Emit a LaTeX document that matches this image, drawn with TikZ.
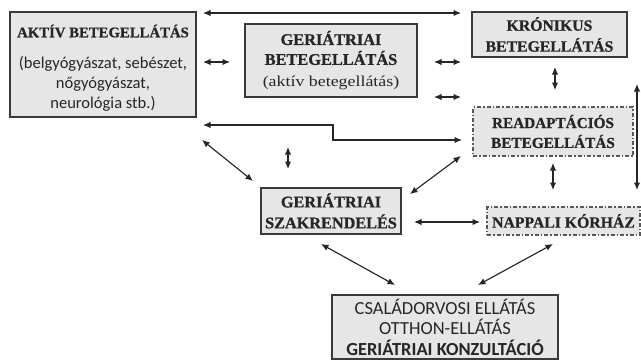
\documentclass[tikz,border=0pt]{standalone}
\usepackage{fontspec}
\usetikzlibrary{arrows.meta}
\newfontfamily\serifB[BoldFeatures={FakeBold=0.8}]{Liberation Serif}
\newfontfamily\serifR[FakeStretch=1.18]{Liberation Serif}
\newfontfamily\sansC{Carlito}
\definecolor{boxfill}{HTML}{E6E6E6}
\definecolor{ink}{HTML}{262626}
\definecolor{edge}{HTML}{3A3A3A}
\tikzset{
  box/.style={draw=edge, line width=1.2bp, fill=boxfill, inner sep=0pt, align=center, text=ink},
  dbox/.style={box, dash pattern=on 4bp off 2bp on 1.5bp off 2bp, line width=1.1bp, draw=edge!85},
  ttl/.style={font=\fontsize{#1}{21}\serifB\bfseries},
  ttl/.default=16,
  conn/.style={draw=ink, line width=1.15bp, {Latex[length=7.5bp,width=6.5bp]}-{Latex[length=7.5bp,width=6.5bp]}},
}
\begin{document}
\begin{tikzpicture}[x=1bp,y=-1bp]
\useasboundingbox (0,0) rectangle (641,360);
% boxes
\node[box, minimum width=186bp, minimum height=105bp] (aktiv) at (103,64.5) {};
\node[text=ink, anchor=base, inner sep=0pt, ttl=14.8] (aktivttl) at (103,37.3)
  {AKTÍV BETEGELLÁTÁS};
\node[text=ink, align=center, anchor=base, inner sep=0pt, font=\fontsize{16.6}{20}\sansC] (aktivtxt) at (103,108.5)
  {(belgyógyászat, sebészet,\\nőgyógyászat,\\neurológia stb.)};
\node[box, ttl=16.4, minimum width=172bp, minimum height=73bp] (geri) at (331,60.5)
  {GERIÁTRIAI\\[-1bp]BETEGELLÁTÁS\\[1bp]{\fontsize{15.2}{20}\serifR\mdseries (aktív betegellátás)}};
\node[box, ttl=15.8, minimum width=155bp, minimum height=45bp] (kron) at (549.5,34.5)
  {KRÓNIKUS\\BETEGELLÁTÁS};
\node[dbox, ttl=15.3, minimum width=160bp, minimum height=49bp] (readapt) at (553,131.5)
  {READAPTÁCIÓS\\[-1bp]BETEGELLÁTÁS};
\node[box, ttl=16.3, minimum width=140bp, minimum height=46bp] (szakr) at (331,211)
  {GERIÁTRIAI\\SZAKRENDELÉS};
\node[dbox, ttl=15.8, minimum width=153bp, minimum height=28bp] (nappali) at (563.5,221)
  {NAPPALI KÓRHÁZ};
\node[box, minimum width=226bp, minimum height=64bp, font=\fontsize{18.5}{20.5}\sansC] (csalad) at (445,327)
  {CSALÁDORVOSI ELLÁTÁS\\OTTHON-ELLÁTÁS\\\textbf{GERIÁTRIAI KONZULTÁCIÓ}};
% connector ends
\coordinate (t1) at (203,13);   \coordinate (t2) at (461,13);
\coordinate (a1) at (203,62);   \coordinate (a2) at (230,62);
\coordinate (b1) at (434,62);   \coordinate (b2) at (461,62);
\coordinate (c1) at (434,97);   \coordinate (c2) at (461,97);
\coordinate (e1) at (203,125);  \coordinate (e2) at (333,125);
\coordinate (e3) at (333,140);  \coordinate (e4) at (462,140);
\coordinate (k1) at (555,67);   \coordinate (k2) at (555,90);
\coordinate (r1) at (637,84);   \coordinate (r2) at (637,190);
\coordinate (n1) at (553,163);  \coordinate (n2) at (553,190);
\coordinate (d1) at (202,140);  \coordinate (d2) at (253,181);
\coordinate (v1) at (288,147);  \coordinate (v2) at (288,169);
\coordinate (s1) at (410,194);  \coordinate (s2) at (461,156);
\coordinate (h1) at (414,222);  \coordinate (h2) at (480,222);
\coordinate (p1) at (321,244);  \coordinate (p2) at (395,285);
\coordinate (q1) at (553,244);  \coordinate (q2) at (478,285);
% connectors
\draw[conn] (t1) -- (t2);
\draw[conn] (a1) -- (a2);
\draw[conn] (b1) -- (b2);
\draw[conn] (c1) -- (c2);
\draw[conn] (e1) -- (e2) -- (e3) -- (e4);
\draw[conn] (k1) -- (k2);
\draw[conn] (r1) -- (r2);
\draw[conn] (n1) -- (n2);
\draw[conn] (d1) -- (d2);
\draw[conn] (v1) -- (v2);
\draw[conn] (s1) -- (s2);
\draw[conn] (h1) -- (h2);
\draw[conn] (p1) -- (p2);
\draw[conn] (q1) -- (q2);
\end{tikzpicture}
\end{document}
